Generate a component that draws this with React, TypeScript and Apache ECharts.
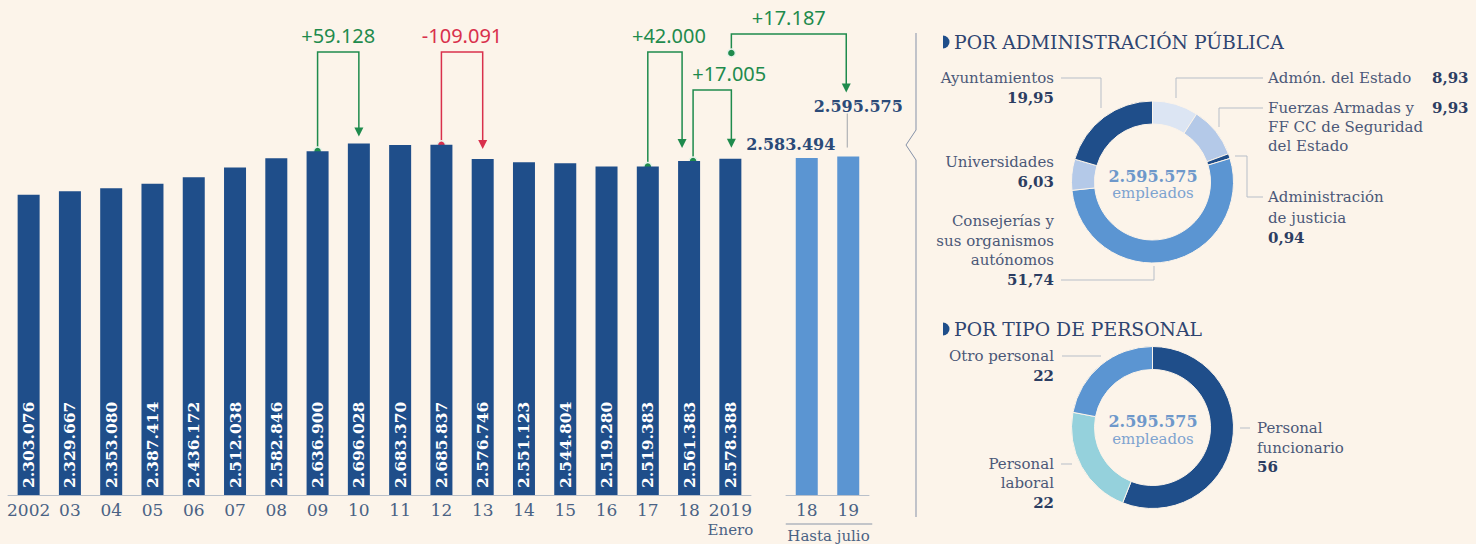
import React, { useEffect, useRef } from "react";
import * as echarts from "echarts";

// ---------- DATA ----------
const YEARS = ["2002", "03", "04", "05", "06", "07", "08", "09", "10", "11", "12", "13", "14", "15", "16", "17", "18", "2019"];
const EMPLOYEES = [2303076, 2329667, 2353080, 2387414, 2436172, 2512038, 2582846, 2636900, 2696028, 2683370, 2685837, 2576746, 2551123, 2544804, 2519280, 2519383, 2561383, 2578388];
const LAST_YEAR_NOTE = "Enero";
const JULY_YEARS = ["18", "19"];
const JULY_EMPLOYEES = [2583494, 2595575];
const JULY_NOTE = "Hasta julio";

// changes: from (main index) -> to (series, index)
const CHANGE_FROM_INDEX = [7, 10, 15, 16, 17];
const CHANGE_TO_SERIES = ["main", "main", "main", "main", "july"];
const CHANGE_TO_INDEX = [8, 11, 16, 17, 1];

const TOTAL_EMPLOYEES = 2595575;
const TOTAL_UNIT = "empleados";

const ADMIN_TITLE = "POR ADMINISTRACIÓN PÚBLICA";
const ADMIN_NAMES = ["Admón. del Estado", "Fuerzas Armadas y\nFF CC de Seguridad\ndel Estado", "Administración\nde justicia", "Consejerías y\nsus organismos\nautónomos", "Universidades", "Ayuntamientos"];
const ADMIN_SHARES = [8.93, 9.93, 0.94, 51.74, 6.03, 19.95];

const STAFF_TITLE = "POR TIPO DE PERSONAL";
const STAFF_NAMES = ["Personal\nfuncionario", "Personal\nlaboral", "Otro personal"];
const STAFF_SHARES = [56, 22, 22];

// ---------- STYLE ----------
const BG = "#fcf4ea";
const DARK = "#1f4e8a";
const LIGHT = "#5b95d2";
const GREEN = "#1f8b4d";
const RED = "#d9304c";
const AXIS_TEXT = "#4a6284";
const NAME_COLOR = "#4b5878";
const VALUE_COLOR = "#2c3d62";
const LEADER = "#b7bec8";
const SERIF = "DejaVu Serif";
const SANS = "Noto Sans";
const ADMIN_COLORS = ["#dce5f3", "#b4c9e8", DARK, LIGHT, "#b4c9e8", DARK];
const STAFF_COLORS = [DARK, "#95d1dc", LIGHT];
const LABEL_SIZE = 15;

const Y_MAX = 3750000;

// annotation layout (pixels)
const ANNOT_LAYOUT = [
  { top: 52, fromDx: 0, toDx: 0, gap: 7, textDx: 0, fromY: null as number | null },
  { top: 52, fromDx: 0, toDx: 0, gap: 10, textDx: 0, fromY: null },
  { top: 52, fromDx: 0, toDx: -7, gap: 13, textDx: 4, fromY: null },
  { top: 90, fromDx: 4, toDx: 1, gap: 11, textDx: 17, fromY: null },
  { top: 34, fromDx: 1, toDx: -2, gap: 64, textDx: 0, fromY: 53 },
];

const fmt = (n: number) => String(Math.abs(n)).replace(/\B(?=(\d{3})+(?!\d))/g, ".");
const fmtShare = (n: number) => (Number.isInteger(n) ? String(n) : n.toFixed(2).replace(".", ","));

function textEl(x: number, y: number, text: string, opts: any = {}) {
  return {
    type: "text",
    silent: true,
    style: {
      x,
      y,
      text,
      fill: opts.fill || NAME_COLOR,
      fontFamily: opts.fontFamily || SERIF,
      fontSize: opts.fontSize || LABEL_SIZE,
      fontWeight: opts.fontWeight || "normal",
      align: opts.align || "left",
      verticalAlign: opts.verticalAlign || "top",
      lineHeight: opts.lineHeight || 19.5,
      rich: opts.rich,
    },
  };
}

function lineEl(points: number[][], stroke = LEADER, lineWidth = 1) {
  return { type: "polyline", silent: true, shape: { points }, style: { stroke, lineWidth, fill: null } };
}

function blockLabel(x: number, centerY: number, align: string, name: string, value: string, lh = 19.5) {
  return textEl(x, centerY - lh / 2, `${name}\n{v|${value}}`, {
    align,
    lineHeight: lh,
    rich: { v: { fontWeight: "bold", fill: VALUE_COLOR, fontSize: LABEL_SIZE, fontFamily: SERIF, lineHeight: lh } },
  });
}

function buildGraphic(chart: any) {
  const els: any[] = [];
  const px = (grid: number, idx: number, val: number) => chart.convertToPixel({ gridIndex: grid }, [idx, val]);

  // change annotations
  CHANGE_FROM_INDEX.forEach((fromIdx, i) => {
    const L = ANNOT_LAYOUT[i];
    const toJuly = CHANGE_TO_SERIES[i] === "july";
    const toVal = toJuly ? JULY_EMPLOYEES[CHANGE_TO_INDEX[i]] : EMPLOYEES[CHANGE_TO_INDEX[i]];
    const fromVal = EMPLOYEES[fromIdx];
    const diff = toVal - fromVal;
    const color = diff >= 0 ? GREEN : RED;
    const label = (diff >= 0 ? "+" : "-") + fmt(diff);
    const f = px(0, fromIdx, fromVal);
    const t = px(toJuly ? 1 : 0, CHANGE_TO_INDEX[i], toVal);
    const fx = f[0] + L.fromDx;
    const fy = L.fromY != null ? L.fromY : f[1];
    const tx = t[0] + L.toDx;
    const tip = t[1] - L.gap;
    els.push(lineEl([[fx, fy], [fx, L.top], [tx, L.top], [tx, tip - 8]], color, 1.5));
    els.push({ type: "polygon", silent: true, shape: { points: [[tx - 4.5, tip - 9], [tx + 4.5, tip - 9], [tx, tip]] }, style: { fill: color } });
    els.push({ type: "circle", silent: true, shape: { cx: fx, cy: fy, r: 4 }, style: { fill: color, stroke: "#e6f2ea", lineWidth: 1.5 } });
    els.push(textEl((fx + tx) / 2 + L.textDx, L.top - 17, label, { fill: color, fontFamily: SANS, fontSize: 20, align: "center", verticalAlign: "middle" }));
  });

  // July label leader
  const j1 = px(1, 1, JULY_EMPLOYEES[1]);
  els.push(lineEl([[j1[0] - 1, j1[1] - 9], [j1[0] - 1, j1[1] - 43]], "#a0a4aa", 1));

  // "Hasta julio" note
  const a = px(1, 0, 0);
  const b = px(1, 1, 0);
  els.push(lineEl([[a[0] - 21, 524], [b[0] + 24, 524]], "#8a96a8", 1));
  els.push(textEl((a[0] + b[0]) / 2 + 1, 536, JULY_NOTE, { fill: AXIS_TEXT, fontSize: 15, align: "center", verticalAlign: "middle" }));

  // divider
  els.push(lineEl([[916, 33], [916, 130], [906, 145], [916, 160], [916, 517]], "#8591a8", 1));

  // titles
  [[ADMIN_TITLE, 42], [STAFF_TITLE, 329]].forEach(([t, y]: any) => {
    els.push({ type: "sector", silent: true, shape: { cx: 943, cy: y, r: 6.5, r0: 0, startAngle: -Math.PI / 2, endAngle: Math.PI / 2 }, style: { fill: DARK } });
    els.push(textEl(954, y, t, { fill: "#2f4470", fontSize: 18.8, verticalAlign: "middle" }));
  });

  // donut centers
  [[182], [427.5]].forEach(([cy]) => {
    els.push(textEl(1153, cy - 6, fmt(TOTAL_EMPLOYEES), { fill: "#6e98ca", fontSize: 16, fontWeight: "bold", align: "center", verticalAlign: "middle" }));
    els.push(textEl(1153, cy + 11, TOTAL_UNIT, { fill: "#7ea3d0", fontSize: 15, align: "center", verticalAlign: "middle" }));
  });

  // admin labels
  const A = ADMIN_NAMES, S = ADMIN_SHARES.map(fmtShare);
  // Admón. del Estado
  els.push(textEl(1268, 78, A[0], { verticalAlign: "middle" }));
  els.push(textEl(1432, 78, S[0], { verticalAlign: "middle", fontWeight: "bold", fill: VALUE_COLOR }));
  els.push(lineEl([[1176, 98], [1176, 78], [1263, 78]]));
  // Fuerzas Armadas
  els.push(textEl(1268, 108 - 9.5, A[1], { lineHeight: 19 }));
  els.push(textEl(1432, 108, S[1], { verticalAlign: "middle", fontWeight: "bold", fill: VALUE_COLOR }));
  els.push(lineEl([[1219, 127], [1219, 108], [1263, 108]]));
  // Justicia
  els.push(blockLabel(1268, 197, "left", A[2], S[2], 20.5));
  els.push(lineEl([[1235, 156], [1247, 156], [1247, 197], [1263, 197]]));
  // Consejerías
  els.push(blockLabel(1054, 221, "right", A[3], S[3], 19.7));
  els.push(lineEl([[1061, 280], [1154, 280], [1154, 266]]));
  // Universidades
  els.push(blockLabel(1054, 162, "right", A[4], S[4], 19.5));
  // Ayuntamientos
  els.push(blockLabel(1054, 78, "right", A[5], S[5], 19.5));
  els.push(lineEl([[1061, 78], [1101, 78], [1101, 108]]));

  // staff labels
  const N = STAFF_NAMES, V = STAFF_SHARES.map(fmtShare);
  els.push(blockLabel(1257, 428, "left", N[0], V[0], 19.5));
  els.push(lineEl([[1240, 428], [1250, 428]]));
  els.push(blockLabel(1054, 464, "right", N[1], V[1], 19.3));
  els.push(lineEl([[1061, 464], [1072, 464]]));
  els.push(blockLabel(1054, 356, "right", N[2], V[2], 19.5));
  els.push(lineEl([[1062, 356], [1101, 356]]));

  return els;
}

export default function App() {
  const ref = useRef<HTMLDivElement>(null);
  useEffect(() => {
    if (!ref.current) return;
    const chart = echarts.init(ref.current, null, { renderer: "svg" });
    const axisLabel = {
      color: AXIS_TEXT,
      fontFamily: SERIF,
      fontSize: 17,
      lineHeight: 20,
      margin: 5,
    };
    const option: any = {
      backgroundColor: BG,
      animation: false,
      grid: [
        { left: 8, right: 725, top: 6, bottom: 49 },
        { left: 786, right: 607, top: 6, bottom: 49 },
      ],
      xAxis: [
        {
          type: "category",
          gridIndex: 0,
          data: YEARS,
          axisTick: { show: false },
          axisLine: { lineStyle: { color: "#b9c0ca", width: 1 } },
          axisLabel: {
            ...axisLabel,
            interval: 0,
            formatter: (v: string, i: number) => (i === YEARS.length - 1 ? `${v}\n{e|${LAST_YEAR_NOTE}}` : v),
            rich: { e: { fontSize: 15, color: AXIS_TEXT, fontFamily: SERIF, lineHeight: 20 } },
          },
        },
        {
          type: "category",
          gridIndex: 1,
          data: JULY_YEARS,
          axisTick: { show: false },
          axisLine: { lineStyle: { color: "#b9c0ca", width: 1 } },
          axisLabel: { ...axisLabel, interval: 0 },
        },
      ],
      yAxis: [
        { type: "value", gridIndex: 0, min: 0, max: Y_MAX, show: false },
        { type: "value", gridIndex: 1, min: 0, max: Y_MAX, show: false },
      ],
      series: [
        {
          type: "bar",
          xAxisIndex: 0,
          yAxisIndex: 0,
          data: EMPLOYEES,
          barWidth: 22,
          itemStyle: { color: DARK },
          silent: true,
          label: {
            show: true,
            position: "insideBottom",
            distance: 7,
            rotate: 90,
            align: "left",
            verticalAlign: "middle",
            color: "#ffffff",
            fontFamily: SERIF,
            fontWeight: "bold",
            fontSize: 15.5,
            formatter: (p: any) => fmt(p.value),
          },
        },
        {
          type: "bar",
          xAxisIndex: 1,
          yAxisIndex: 1,
          barWidth: 22,
          silent: true,
          itemStyle: { color: LIGHT },
          data: JULY_EMPLOYEES.map((v, i) => ({
            value: v,
            label: {
              show: true,
              position: "top",
              distance: 5,
              offset: i === 0 ? [-16, -1] : [10, -37],
              color: "#2b4a78",
              fontFamily: SERIF,
              fontWeight: "bold",
              fontSize: 16,
              formatter: (p: any) => fmt(p.value),
            },
          })),
        },
        {
          type: "pie",
          center: [1152.5, 182],
          radius: [58, 81],
          startAngle: 90,
          clockwise: true,
          silent: true,
          label: { show: false },
          labelLine: { show: false },
          itemStyle: { borderColor: BG, borderWidth: 1 },
          data: ADMIN_NAMES.map((n, i) => ({ name: n, value: ADMIN_SHARES[i], itemStyle: { color: ADMIN_COLORS[i] } })),
        },
        {
          type: "pie",
          center: [1152.5, 427.5],
          radius: [58, 81],
          startAngle: 90,
          clockwise: true,
          silent: true,
          label: { show: false },
          labelLine: { show: false },
          itemStyle: { borderColor: BG, borderWidth: 1 },
          data: STAFF_NAMES.map((n, i) => ({ name: n, value: STAFF_SHARES[i], itemStyle: { color: STAFF_COLORS[i] } })),
        },
      ],
    };
    chart.setOption(option);
    chart.setOption({ graphic: buildGraphic(chart) });
    return () => chart.dispose();
  }, []);
  return <div ref={ref} style={{ position: "absolute", left: 0, top: 0, width: 1476, height: 544 }} />;
}
